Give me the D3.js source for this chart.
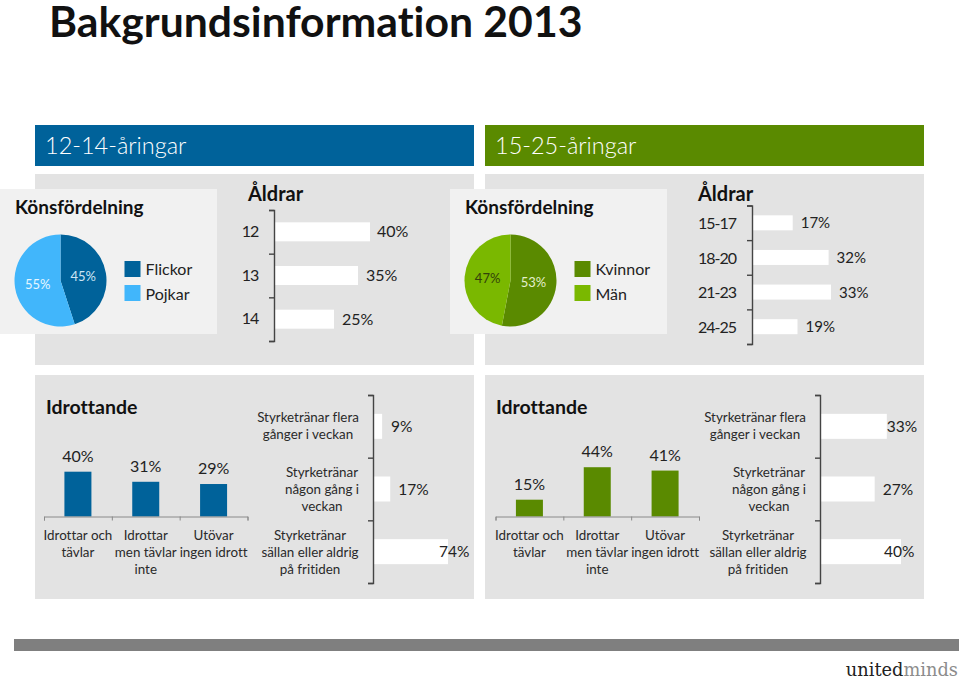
<!DOCTYPE html>
<html>
<head>
<meta charset="utf-8">
<script src="https://cdn.jsdelivr.net/npm/d3@7/dist/d3.min.js"></script>
<style>
  html, body { margin: 0; padding: 0; background: #fff; }
  svg { display: block; }
  text { font-family: Lato, sans-serif; fill: #222; font-variant-ligatures: none; }
</style>
</head>
<body>
<div id="chart"></div>
<script>
// data
var genderLabelsYoung = ["Flickor", "Pojkar"];
var genderValuesYoung = [45, 55];
var genderLabelsOld = ["Kvinnor", "Män"];
var genderValuesOld = [53, 47];

var agesYoung = ["12", "13", "14"];
var ageValuesYoung = [40, 35, 25];
var agesOld = ["15-17", "18-20", "21-23", "24-25"];
var ageValuesOld = [17, 32, 33, 19];

var sportCategories = ["Idrottar och\ntävlar", "Idrottar\nmen tävlar\ninte", "Utövar\ningen idrott"];
var sportValuesYoung = [40, 31, 29];
var sportValuesOld = [15, 44, 41];

var strengthCategories = ["Styrketränar flera\ngånger i veckan", "Styrketränar\nnågon gång i\nveckan", "Styrketränar\nsällan eller aldrig\npå fritiden"];
var strengthValuesYoung = [9, 17, 74];
var strengthValuesOld = [33, 27, 40];

var blue = "#00629a", lightBlue = "#41b6fb", green = "#5a8a00", lightGreen = "#7ab800";

var svg = d3.select("#chart").append("svg").attr("width", 960).attr("height", 680);

function addRect(x, y, w, h, fill) {
  return svg.append("rect").attr("x", x).attr("y", y).attr("width", w).attr("height", h).attr("fill", fill);
}

function addText(str, x, y, size, weight, anchor, fill) {
  return svg.append("text")
    .attr("x", x)
    .attr("y", y)
    .attr("font-size", size)
    .attr("font-weight", weight || 400)
    .attr("text-anchor", anchor || "start")
    .style("fill", fill || "#222")
    .text(str);
}

// multi line centred label, y = baseline of first line
function addLines(str, x, y, lineHeight) {
  str.split("\n").forEach(function (line, i) {
    addText(line, x, y + i * lineHeight, 13.4, 400, "middle", "#2a2a2a");
  });
}

function drawPie(values, colors, labelFills, cx, cy) {
  var pie = d3.pie().sort(null)(values);
  var arc = d3.arc().innerRadius(0).outerRadius(46);
  var labelArc = d3.arc().innerRadius(23).outerRadius(23);
  var g = svg.append("g").attr("transform", "translate(" + cx + "," + cy + ")");
  g.selectAll("path")
    .data(pie)
    .enter()
    .append("path")
    .attr("d", arc)
    .attr("fill", function (d, i) { return colors[i]; });
  g.selectAll("text")
    .data(pie)
    .enter()
    .append("text")
    .attr("transform", function (d) { return "translate(" + labelArc.centroid(d) + ")"; })
    .attr("text-anchor", "middle")
    .attr("dy", ".35em")
    .attr("font-size", 13)
    .attr("font-weight", 400)
    .style("fill", function (d, i) { return labelFills[i]; })
    .text(function (d) { return d.value + "%"; });
}

function drawLegend(labels, colors, x) {
  labels.forEach(function (name, i) {
    addRect(x, 261 + i * 24, 16, 16, colors[i]);
    addText(name, x + 21, 275 + i * 25, 16, 400);
  });
}

// white horizontal bars hanging on a bracket axis
function drawHBars(values, opts) {
  var n = values.length;
  var y = d3.scaleLinear().domain([0, n]).range([opts.top, opts.bottom]);
  var x = d3.scaleLinear().domain([0, opts.max]).range([opts.x, opts.x + opts.width]);
  var g = svg.append("g");
  g.selectAll("rect")
    .data(values)
    .enter()
    .append("rect")
    .attr("x", opts.x + 1)
    .attr("y", function (d, i) { return y(i + 0.5) - opts.barHeight / 2; })
    .attr("width", function (d) { return x(d) - opts.x - 1; })
    .attr("height", opts.barHeight)
    .attr("fill", "#fff");
  var axis = g.append("g")
    .attr("transform", "translate(" + opts.x + ",0)")
    .call(d3.axisLeft(y).tickValues(d3.range(n + 1)).tickFormat("").tickSize(5));
  axis.selectAll("path, line").attr("stroke", "#444").attr("stroke-width", 1.4);
  values.forEach(function (d, i) {
    addText(d + "%", x(d) + opts.labelDx[i], y(i + 0.5) + 5.5, opts.fontSize, 400);
  });
}

function drawVBars(values, x0, baseline) {
  var x = d3.scaleBand().domain(d3.range(values.length)).range([x0, x0 + 203.5]);
  var edges = d3.scaleLinear().domain([0, values.length]).range([x0, x0 + 203.5]);
  var y = d3.scaleLinear().domain([0, 50]).range([baseline, baseline - 56]);
  var g = svg.append("g");
  g.selectAll("rect")
    .data(values)
    .enter()
    .append("rect")
    .attr("x", function (d, i) { return x(i) + x.bandwidth() / 2 - 13.5; })
    .attr("y", function (d) { return y(d); })
    .attr("width", 27)
    .attr("height", function (d) { return baseline - y(d); })
    .attr("fill", x0 < 480 ? blue : green);
  var axis = g.append("g")
    .attr("transform", "translate(0," + baseline + ")")
    .call(d3.axisBottom(edges).tickValues(d3.range(values.length + 1)).tickFormat("").tickSize(4));
  axis.selectAll("path, line").attr("stroke", "#8a8a8a");
  values.forEach(function (d, i) {
    addText(d + "%", x(i) + x.bandwidth() / 2, y(d) - 10, 16, 400, "middle");
    addLines(sportCategories[i], x(i) + x.bandwidth() / 2, 540, 17);
  });
}

// title
addText("Bakgrundsinformation 2013", 49, 36.5, 42.7, 700, "start", "#111");

// panels
addRect(35, 125, 439, 41, blue);
addRect(485, 125, 439, 41, green);
addText("12-14-åringar", 45, 154, 23.5, 300, "start", "#fff");
addText("15-25-åringar", 495, 154, 23.5, 300, "start", "#fff");
addRect(35, 174, 439, 191, "#e3e3e3");
addRect(485, 174, 439, 191, "#e3e3e3");
addRect(35, 375, 439, 224, "#e3e3e3");
addRect(485, 375, 439, 224, "#e3e3e3");
addRect(0, 189, 217, 145, "#f1f1f1");
addRect(450, 189, 217, 145, "#f1f1f1");

// gender boxes
addText("Könsfördelning", 15, 214, 19, 700, "start", "#111");
addText("Könsfördelning", 465, 214, 19, 700, "start", "#111");
drawPie(genderValuesYoung, [blue, lightBlue], ["#cfe6f5", "#e6f6ff"], 60.5, 280.5);
drawPie(genderValuesOld, [green, lightGreen], ["#e4efcc", "#33420a"], 510.5, 280.5);
drawLegend(genderLabelsYoung, [blue, lightBlue], 124.5);
drawLegend(genderLabelsOld, [green, lightGreen], 574.5);

// ages
addText("Åldrar", 248, 201, 20, 700, "start", "#111");
addText("Åldrar", 698, 201, 20, 700, "start", "#111");
drawHBars(ageValuesYoung, { x: 274, top: 210, bottom: 341, max: 40, width: 96, barHeight: 19, labelDx: [7, 8, 8], fontSize: 16 });
drawHBars(ageValuesOld, { x: 752, top: 205.5, bottom: 344, max: 33, width: 79, barHeight: 15, labelDx: [8, 8, 8, 8], fontSize: 15 });
agesYoung.forEach(function (d, i) {
  addText(d, 258, 237 + i * 43.5, 16, 400, "end").style("letter-spacing", "-1.2px");
});
agesOld.forEach(function (d, i) {
  addText(d, 736, 229 + i * 34.6, 16, 400, "end").style("letter-spacing", "-1px");
});

// sports
addText("Idrottande", 46, 414, 19.5, 700, "start", "#111");
addText("Idrottande", 496, 414, 19.5, 700, "start", "#111");
drawVBars(sportValuesYoung, 44, 516.5);
drawVBars(sportValuesOld, 495.5, 516.5);

// strength training
drawHBars(strengthValuesYoung, { x: 373, top: 395, bottom: 583, max: 74, width: 75, barHeight: 25, labelDx: [9, 8, -9], fontSize: 15.5 });
drawHBars(strengthValuesOld, { x: 820, top: 395, bottom: 583, max: 40, width: 81, barHeight: 25, labelDx: [0, 8, -17], fontSize: 15.5 });
var strengthLabelX = [[308, 322, 310], [755, 769, 758]];
var strengthLabelY = [417, 472, 535];
strengthCategories.forEach(function (d, i) {
  addLines(d, strengthLabelX[0][i], strengthLabelY[i] + 5, 17);
  addLines(d, strengthLabelX[1][i], strengthLabelY[i] + 5, 17);
});

// footer
addRect(14, 639, 945, 12, "#7f7f7f");
var logo = svg.append("text")
  .attr("x", 958)
  .attr("y", 676)
  .attr("text-anchor", "end")
  .attr("font-size", 17.8)
  .style("font-family", "'DejaVu Serif', serif");
logo.append("tspan").style("fill", "#222").text("united");
logo.append("tspan").style("fill", "#8c8c8c").text("minds");
</script>
</body>
</html>
